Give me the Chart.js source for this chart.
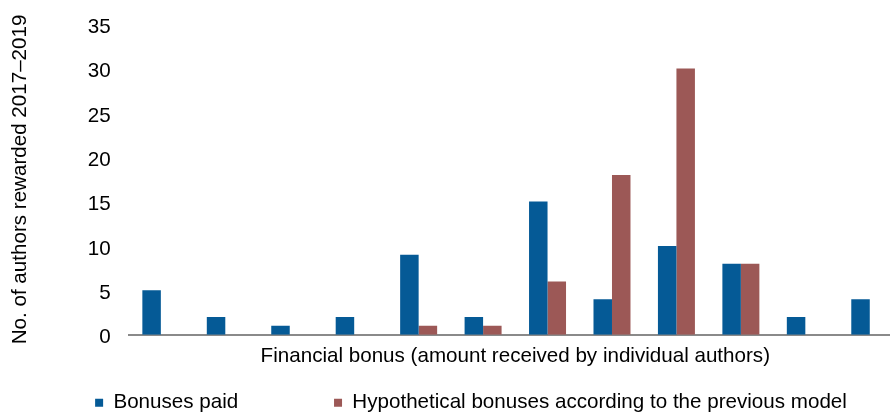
<!DOCTYPE html>
<html>
<head>
<meta charset="utf-8">
<script src="https://cdn.jsdelivr.net/npm/chart.js@4"></script>
<style>
  html, body { margin: 0; padding: 0; background: #fff; }
  #wrap { width: 890px; height: 412px; overflow: hidden; position: relative; }
  #chart { display: block; }
</style>
</head>
<body>
<div id="wrap">
  <canvas id="chart" width="905" height="423"></canvas>
</div>
<script>
// bonus bands (no labels shown on the axis)
const categories = ['1', '2', '3', '4', '5', '6', '7', '8', '9', '10', '11', '12'];
const bonusesPaid = [5, 2, 1, 2, 9, 2, 15, 4, 10, 8, 2, 4];
const hypotheticalBonuses = [0, 0, 0, 0, 1, 1, 6, 18, 30, 8, 0, 0];
const yTicks = [0, 5, 10, 15, 20, 25, 30, 35];

const seriesNames = ['Bonuses paid', 'Hypothetical bonuses according to the previous model'];
const xTitle = 'Financial bonus (amount received by individual authors)';
const yTitle = 'No. of authors rewarded 2017\u20132019';

const FONT = "'Liberation Sans', Arial, sans-serif";
Chart.defaults.font.family = FONT;
Chart.defaults.font.size = 20.6;
Chart.defaults.color = '#000';

// nudge the legend to the right, like the original
const legendShift = {
    id: 'legendShift',
    afterLayout(chart) {
        chart.legend.left += 20;
        chart.legend.right += 20;
    }
};

const ctx = document.getElementById('chart').getContext('2d');
new Chart(ctx, {
    type: 'bar',
    data: {
        labels: categories,
        datasets: [
            { label: seriesNames[0], data: bonusesPaid, backgroundColor: '#055a96' },
            { label: seriesNames[1], data: hypotheticalBonuses, backgroundColor: '#9c5856' }
        ]
    },
    options: {
        responsive: false,
        animation: false,
        layout: { padding: { top: 0, right: 3, left: 0, bottom: 0 } },
        datasets: { bar: { categoryPercentage: 0.574, barPercentage: 1.0 } },
        scales: {
            x: {
                grid: { display: false, drawTicks: false },
                border: { display: true, color: '#8a8a8a', width: 2 },
                ticks: { display: false },
                title: { display: true, text: xTitle, padding: { top: 9, bottom: 14 } }
            },
            y: {
                min: 0,
                max: 35,
                afterBuildTicks(axis) { axis.ticks = yTicks.map(v => ({ value: v })); },
                grid: { display: false, drawTicks: false },
                border: { display: false },
                ticks: { padding: 18, labelOffset: 3, font: { lineHeight: 0.6 } },
                title: { display: true, text: yTitle, padding: { top: 8, bottom: 37 } }
            }
        },
        plugins: {
            tooltip: { enabled: false },
            legend: {
                position: 'bottom',
                labels: {
                    boxWidth: 8,
                    boxHeight: 8,
                    padding: 10,
                    generateLabels(chart) {
                        const items = Chart.defaults.plugins.legend.labels.generateLabels(chart);
                        // wide gap between the two entries
                        items[0].text = items[0].text + '\u00a0'.repeat(15);
                        return items;
                    }
                }
            }
        }
    },
    plugins: [legendShift]
});
</script>
</body>
</html>
